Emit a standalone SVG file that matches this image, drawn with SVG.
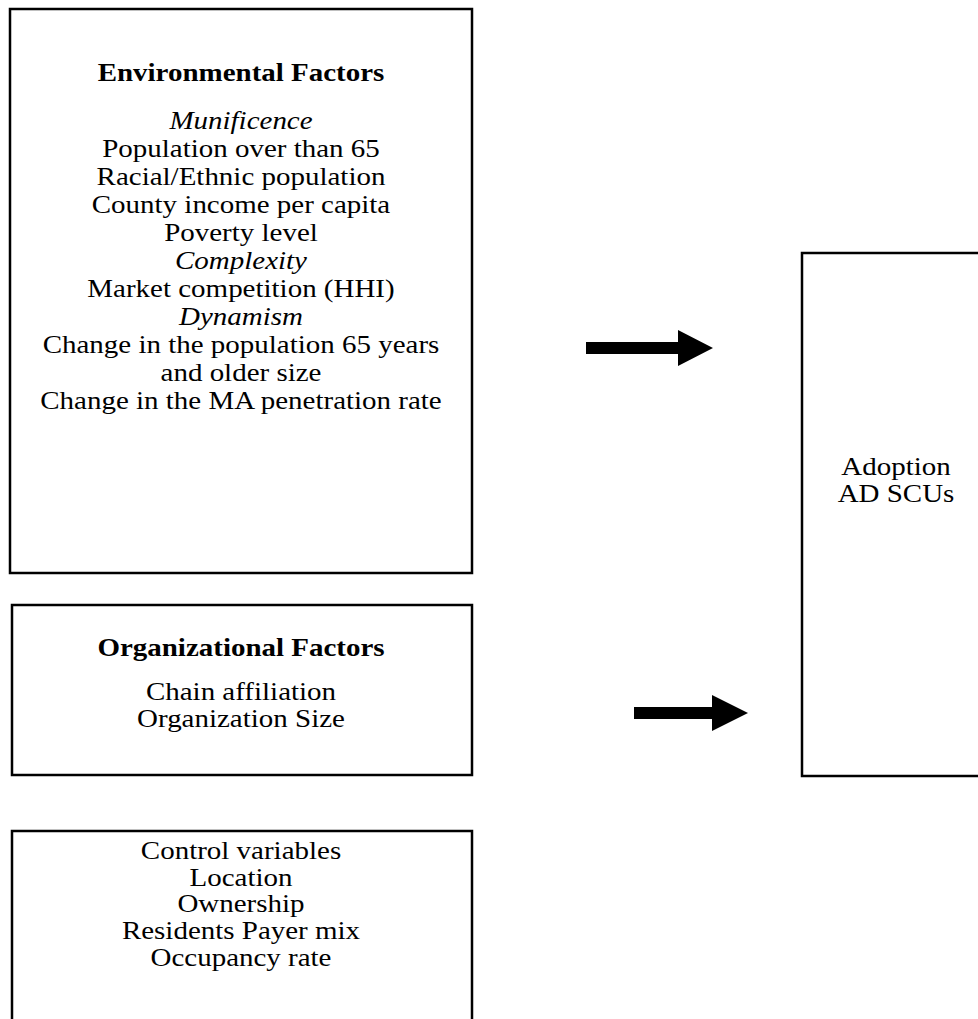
<svg xmlns="http://www.w3.org/2000/svg" width="978" height="1019" viewBox="0 0 978 1019">
  <style>
    .box { fill: #ffffff; stroke: #000000; stroke-width: 2.5; }
    .t { font-family: "Liberation Serif", "Times New Roman", serif; font-size: 26px; fill: #000000; text-anchor: middle; }
    .b { font-weight: bold; }
    .i { font-style: italic; }
    .arrow { fill: #000000; stroke: none; }
  </style>
  <rect x="0" y="0" width="978" height="1019" fill="#ffffff"/>

  <!-- text blocks are widened horizontally around their centre line -->
  <g id="environmental-factors">
    <rect class="box" x="10" y="9" width="462" height="564"/>
    <g transform="translate(241,0) scale(1.115,1)">
      <text class="t b" x="0" y="81">Environmental Factors</text>
      <text class="t i" x="0" y="129">Munificence</text>
      <text class="t" x="0" y="157">Population over than 65</text>
      <text class="t" x="0" y="185">Racial/Ethnic population</text>
      <text class="t" x="0" y="213">County income per capita</text>
      <text class="t" x="0" y="241">Poverty level</text>
      <text class="t i" x="0" y="269">Complexity</text>
      <text class="t" x="0" y="297">Market competition (HHI)</text>
      <text class="t i" x="0" y="325">Dynamism</text>
      <text class="t" x="0" y="353">Change in the population 65 years</text>
      <text class="t" x="0" y="381">and older size</text>
      <text class="t" x="0" y="409">Change in the MA penetration rate</text>
    </g>
  </g>

  <g id="organizational-factors">
    <rect class="box" x="12" y="605" width="460" height="170"/>
    <g transform="translate(241,0) scale(1.115,1)">
      <text class="t b" x="0" y="656">Organizational Factors</text>
      <text class="t" x="0" y="700">Chain affiliation</text>
      <text class="t" x="0" y="727">Organization Size</text>
    </g>
  </g>

  <g id="control-variables">
    <rect class="box" x="12" y="831" width="460" height="200"/>
    <g transform="translate(241,0) scale(1.115,1)">
      <text class="t" x="0" y="859">Control variables</text>
      <text class="t" x="0" y="885.7">Location</text>
      <text class="t" x="0" y="912.4">Ownership</text>
      <text class="t" x="0" y="939.1">Residents Payer mix</text>
      <text class="t" x="0" y="965.8">Occupancy rate</text>
    </g>
  </g>

  <g id="adoption">
    <rect class="box" x="802" y="253" width="190" height="523"/>
    <g transform="translate(896,0) scale(1.115,1)">
      <text class="t" x="0" y="475">Adoption</text>
      <text class="t" x="0" y="502">AD SCUs</text>
    </g>
  </g>

  <g id="connectors">
    <path class="arrow" d="M586 342 H678 V330 L713 348 L678 366 V354 H586 Z"/>
    <path class="arrow" d="M634 707 H712 V695 L748 713 L712 731 V719 H634 Z"/>
  </g>
</svg>
